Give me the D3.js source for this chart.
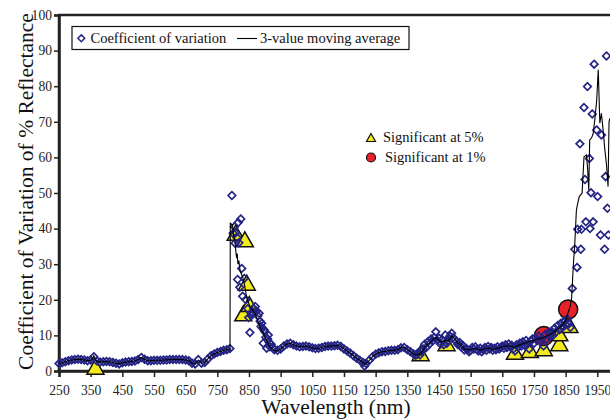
<!DOCTYPE html>
<html><head><meta charset="utf-8">
<script src="https://cdn.jsdelivr.net/npm/d3@7"></script>
<style>body{margin:0;background:#fff}svg{display:block}svg text{font-family:"Liberation Serif","Times New Roman",serif}</style>
</head><body><svg id="c" width="610" height="419"></svg>
<script>
// Coefficient of variation (points)
const cvWl = [250,260,270,280,290,300,310,320,330,340,350,360,370,380,390,400,410,420,430,440,450,460,470,480,490,500,510,520,530,540,550,560,570,580,590,600,610,620,630,640,650,660,670,680,690,700,710,720,730,740,750,760,770,780,790,
796,800,804,806,808,812,814,816,818,821,824,827,830,835,840,846,849,853,857,861,865,870,874,878,882,885,888,890,893,895,898,900,903,906,909,911,914,916,920,925,930,
940,950,960,970,980,990,1000,1010,1020,1030,1040,1050,1060,1070,1080,1090,1100,1110,1120,1130,1140,1150,1160,1170,1180,1190,1200,1210,1215,1220,1230,1240,1250,1260,1270,1280,1290,1300,1310,1320,1330,1340,1350,1360,1370,
1375,1380,1385,1390,1395,1400,1405,1410,1415,1420,1425,1430,1435,1440,1445,1450,1455,1460,1465,1470,1475,1480,1485,1490,1495,1500,1505,1510,1515,1520,1525,1530,1535,1540,1545,1550,1555,1560,1565,1570,1575,1580,1585,1590,1595,1600,1605,1610,1615,1620,1625,1630,1635,1640,1645,1650,1655,1660,1665,1670,1675,1680,1685,1690,1695,1700,1705,1710,1715,1720,1725,1730,1735,1740,1745,1750,1755,1760,1765,1770,1775,1780,1785,1790,1795,1800,1805,1810,1815,1820,1825,1830,1835,1840,1845,1850,1855,1860,1865,
1871,1879,1886,1888,1895,1898,1900,1908,1911,1914,1919,1925,1927,1930,1934,1937,1940,1948,1951,1960,1963,1973,1976,1979,1982,1985];
const cvVal = [2.1,2.3,2.6,2.9,3.1,3.2,3.3,3.2,3.1,2.9,3.1,4.0,2.8,2.5,2.6,2.7,2.6,2.4,2.2,2.0,2.3,2.5,2.6,2.7,2.8,3.2,3.8,3.3,2.9,2.9,3.0,3.0,3.0,3.1,3.1,3.2,3.2,3.2,3.2,3.2,3.1,2.9,2.2,2.0,3.2,2.2,2.4,3.4,4.3,4.8,5.2,5.5,5.8,6.0,6.3,
49.3,38.7,40.5,35.9,38.8,37.5,25.7,41.7,36.0,23.5,42.7,28.8,21.0,26.0,20.0,17.5,15.0,10.8,15.5,16.5,17.5,18.1,16.8,15.5,16.2,14.0,12.5,13.4,12.0,7.8,11.5,11.0,9.5,6.4,9.0,10.1,8.0,6.8,7.5,6.6,6.0,
5.8,6.2,7.0,7.6,7.8,7.4,7.0,6.8,6.9,7.0,6.8,6.5,6.3,6.4,6.6,6.9,7.0,7.0,7.1,7.2,6.9,6.2,5.6,5.0,4.3,3.6,3.0,2.4,1.4,2.1,3.0,4.0,4.7,5.1,5.4,5.5,5.7,5.8,5.8,6.0,6.5,6.6,6.0,5.4,4.8,
4.4,4.6,5.2,4.5,5.5,6.2,7.5,6.6,8.2,7.6,9.0,8.4,9.4,11.0,8.6,9.2,7.6,8.8,7.4,10.1,7.8,8.6,9.8,10.6,9.4,8.8,8.2,7.4,8.0,6.8,7.2,5.9,6.4,6.0,5.4,5.8,6.6,6.2,6.8,6.0,5.6,6.4,5.4,6.0,6.6,5.8,6.9,6.2,6.6,5.8,6.4,6.0,6.8,6.2,6.6,7.0,6.4,7.4,6.6,7.6,6.8,7.2,6.2,5.6,7.4,6.8,7.8,7.0,8.2,7.2,8.6,7.6,6.2,8.4,9.0,7.8,9.4,8.6,9.8,8.4,9.2,7.0,10.2,9.0,10.8,9.6,11.2,10.0,12.0,11.0,12.8,11.6,13.4,12.2,14.0,13.0,14.6,13.2,12.2,
23.2,34.2,29.1,39.8,63.8,34.2,39.8,74.0,53.8,41.9,79.9,59.7,40.0,50.1,72.2,41.9,86.2,67.7,49.0,38.2,66.3,34.2,54.6,88.5,45.7,38.2];

// 3-value moving average (line)
const maWl = [250,260,270,280,290,300,310,320,330,340,350,355,360,365,370,380,390,400,410,420,430,440,450,460,470,480,490,500,510,520,530,540,550,560,570,580,590,600,610,620,630,640,650,660,670,680,690,700,710,720,730,740,750,760,770,780,790,
791,798,802,806,809,811,813,815,818,822,830,837,843,853,869,885,900,916,930,940,950,960,970,980,990,1000,1010,1020,1030,1040,1050,1060,1070,1080,1090,1100,1110,1120,1130,1140,1150,1160,1170,1180,1190,1200,1210,1217,1225,1230,1240,1250,1260,1270,1280,1290,1300,1310,1320,1330,1340,1350,1360,1370,
1380,1390,1400,1410,1420,1430,1440,1450,1460,1470,1480,1490,1500,1510,1520,1530,1540,1550,1560,1570,1580,1590,1600,1610,1620,1630,1640,1650,1660,1670,1680,1690,1700,1710,1720,1730,1740,1750,1760,1770,1780,1790,1800,1810,1820,1830,1840,1850,1858,1864,
1869,1874,1879,1884,1888,1893,1902,1908,1916,1920,1923,1926,1932,1937,1942,1948,1953,1958,1963,1968,1974,1979,1984,1987,1990];
const maVal = [2.1,2.3,2.6,2.9,3.1,3.2,3.3,3.2,3.1,2.9,3.0,3.3,4.3,3.1,2.7,2.5,2.6,2.7,2.6,2.4,2.2,2.0,2.3,2.5,2.6,2.7,2.8,3.2,3.8,3.3,2.9,2.9,3.0,3.0,3.0,3.1,3.1,3.2,3.2,3.2,3.2,3.2,3.1,2.9,2.2,2.0,3.1,2.2,2.4,3.4,4.3,4.8,5.2,5.5,5.8,6.0,6.2,
41.5,41.0,38.0,36.3,33.0,31.7,33.0,30.0,31.0,28.0,26.5,23.7,20.4,18.1,16.2,12.4,9.6,6.8,5.8,5.6,6.2,7.0,7.6,7.8,7.4,7.0,6.8,6.9,7.0,6.8,6.5,6.3,6.4,6.6,6.9,7.0,7.0,7.1,7.2,6.9,6.2,5.6,5.0,4.3,3.6,3.0,2.4,1.9,2.5,3.0,4.0,4.7,5.1,5.4,5.5,5.7,5.8,5.8,6.0,6.5,6.6,6.0,5.4,4.8,
4.5,4.8,5.8,7.2,7.8,8.8,9.4,8.6,8.2,8.6,8.4,9.8,9.0,7.8,7.2,6.2,5.9,6.0,6.4,6.2,5.8,6.1,6.3,6.5,6.0,6.3,6.5,6.8,7.0,7.1,6.9,6.6,7.2,7.5,7.8,8.0,8.4,8.6,9.0,9.1,9.4,9.8,10.2,10.8,11.5,12.2,13.0,14.0,16.5,18.0,
20.5,29.3,35.9,45.2,47.0,49.0,50.0,60.2,60.7,56.0,50.8,64.9,65.5,66.7,70.5,76.0,84.6,69.6,72.4,68.0,62.0,58.0,51.8,70.0,71.0];

// Significance markers
const sig5Wl = [365,808,832,837,843,851,1392,1474,1690,1737,1781,1830,1830,1862];
const sig5Val = [1.2,38.8,16.2,37.0,24.8,18.8,5.0,7.8,5.4,5.9,6.4,7.8,10.6,12.9];
const sig1Wl = [1781,1858];
const sig1Val = [9.8,17.3];

const xTicks = [250,350,450,550,650,750,850,950,1050,1150,1250,1350,1450,1550,1650,1750,1850,1950];
const yTicks = [0,10,20,30,40,50,60,70,80,90,100];
const xAxisEnd = 2450;

const NAVY = "#242485";

const svg = d3.select('#c');
const x = d3.scaleLinear().domain([250, 1950]).range([59, 597.3]);
const y = d3.scaleLinear().domain([0, 100]).range([371, 15]);

const cv = cvWl.map((w,i)=>({w, v: cvVal[i]}));
const ma = maWl.map((w,i)=>({w, v: maVal[i]}));
const s5 = sig5Wl.map((w,i)=>({w, v: sig5Val[i]}));
const s1 = sig1Wl.map((w,i)=>({w, v: sig1Val[i]}));

// plot frame
svg.append('rect')
  .attr('x', x(250)).attr('y', y(100))
  .attr('width', x(xAxisEnd) - x(250)).attr('height', y(0) - y(100))
  .attr('fill', 'none').attr('stroke', '#222').attr('stroke-width', 2.5);

// axes
const gx = svg.append('g').attr('transform', `translate(0,${y(0)})`)
  .call(d3.axisBottom(d3.scaleLinear().domain([250, xAxisEnd]).range([x(250), x(xAxisEnd)]))
    .tickValues(xTicks).tickSize(6).tickPadding(8).tickFormat(d3.format('d')));
const gy = svg.append('g').attr('transform', `translate(${x(250)},0)`)
  .call(d3.axisLeft(y).tickValues(yTicks).tickSize(5).tickPadding(2));
[gx, gy].forEach(g => {
  g.attr('font-family', null).attr('font-size', null);
  g.select('.domain').attr('stroke', '#222').attr('stroke-width', 2.5);
  g.selectAll('.tick line').attr('stroke', '#222').attr('stroke-width', 1.5);
  g.selectAll('.tick text').style('font-size', '13.6px').attr('fill', '#222');
});

// triangles (5%)
const triPath = (w,h) => `M0,${-h/2}L${w/2},${h/2}L${-w/2},${h/2}Z`;
svg.append('g').selectAll('path').data(s5).join('path')
  .attr('d', triPath(17, 15))
  .attr('transform', d => `translate(${x(d.w)},${y(d.v)})`)
  .attr('fill', '#f2ea1c').attr('stroke', '#111').attr('stroke-width', 1.5);

// circles (1%)
svg.append('g').selectAll('circle').data(s1).join('circle')
  .attr('cx', d => x(d.w)).attr('cy', d => y(d.v)).attr('r', 9.5)
  .attr('fill', '#e8202a').attr('stroke', '#111').attr('stroke-width', 1.5);

// diamonds (CV)
const diamond = "M0,-3.8L3.8,0L0,3.8L-3.8,0Z";
svg.append('g').selectAll('path').data(cv).join('path')
  .attr('d', diamond)
  .attr('transform', d => `translate(${x(d.w)},${y(d.v)})`)
  .attr('fill', 'none').attr('stroke', NAVY).attr('stroke-width', 1.7);

// moving average line
svg.append('path').datum(ma)
  .attr('d', d3.line().x(d => x(d.w)).y(d => y(d.v)))
  .attr('fill', 'none').attr('stroke', '#000').attr('stroke-width', 1.1);

// legend 1
const lg = svg.append('g');
lg.append('rect').attr('x', 72).attr('y', 26.5).attr('width', 337).attr('height', 23)
  .attr('fill', '#fff').attr('stroke', '#111').attr('stroke-width', 1.2);
lg.append('path').attr('d', "M0,-3.4L3.4,0L0,3.4L-3.4,0Z").attr('transform', 'translate(81.3,38.3)')
  .attr('fill', 'none').attr('stroke', NAVY).attr('stroke-width', 1.5);
lg.append('text').attr('x', 90.5).attr('y', 43.3).text('Coefficient of variation')
  .style('font-size', '14.5px').attr('fill', '#111');
lg.append('line').attr('x1', 237).attr('x2', 257).attr('y1', 38.5).attr('y2', 38.5)
  .attr('stroke', '#000').attr('stroke-width', 1.1);
lg.append('text').attr('x', 260).attr('y', 43.3).text('3-value moving average')
  .style('font-size', '14.5px').attr('fill', '#111');

// legend 2
const lg2 = svg.append('g');
lg2.append('path').attr('d', triPath(9, 8)).attr('transform', 'translate(371,137.5)')
  .attr('fill', '#f2ea1c').attr('stroke', '#111').attr('stroke-width', 1.2);
lg2.append('text').attr('x', 383).attr('y', 141.7).text('Significant at 5%')
  .style('font-size', '14.5px').attr('fill', '#111');
lg2.append('circle').attr('cx', 371).attr('cy', 157.5).attr('r', 4.5)
  .attr('fill', '#e8202a').attr('stroke', '#111').attr('stroke-width', 1.2);
lg2.append('text').attr('x', 385).attr('y', 161.7).text('Significant at 1%')
  .style('font-size', '14.5px').attr('fill', '#111');

// axis titles
svg.append('text').attr('transform', 'translate(33,191.5) rotate(-90)')
  .attr('text-anchor', 'middle').style('font-size', '21.5px').attr('fill', '#111')
  .text('Coefficient of Variation of % Reflectance');
svg.append('text').attr('x', 336).attr('y', 414)
  .attr('text-anchor', 'middle').style('font-size', '21.5px').attr('fill', '#111')
  .text('Wavelength (nm)');
</script></body></html>
